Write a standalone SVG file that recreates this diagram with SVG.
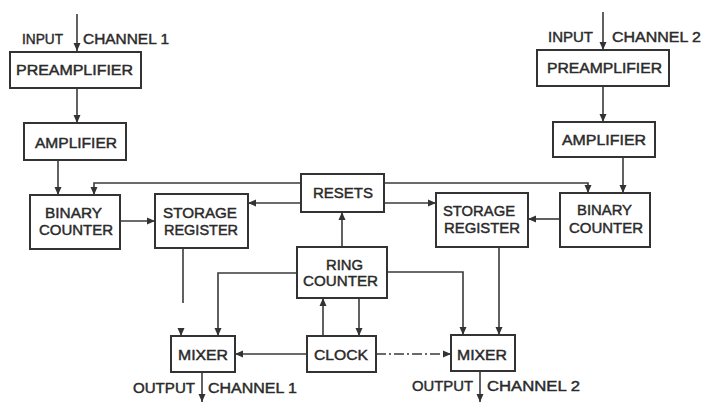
<svg xmlns="http://www.w3.org/2000/svg" width="702" height="403" viewBox="0 0 702 403">
<style>
.box{fill:#fff;stroke:#333;stroke-width:2}
.t{font-family:"Liberation Sans",Arial,sans-serif;font-size:15px;fill:#2a2a2a;stroke:#2a2a2a;stroke-width:0.45}
.c{fill:none;stroke:#3a3a3a;stroke-width:1.6}
.dash{stroke-dasharray:10 3 2 3}
</style>
<defs>
<marker id="ah" markerUnits="userSpaceOnUse" markerWidth="8" markerHeight="8" refX="8" refY="4" orient="auto">
<path d="M0,0.5 L8,4 L0,7.5 z" fill="#333"/>
</marker>
</defs>
<rect width="702" height="403" fill="#fff"/>
<g id="connectors" class="c">
<path d="M77,14 V51" marker-end="url(#ah)"/>
<path d="M77,88 V123" marker-end="url(#ah)"/>
<path d="M58,160 V195" marker-end="url(#ah)"/>
<path d="M301,183 H94 V195" marker-end="url(#ah)"/>
<path d="M301,203 H248" marker-end="url(#ah)"/>
<path d="M120,221 H155" marker-end="url(#ah)"/>
<path d="M183,248 V303"/>
<path d="M181,329 V336" marker-end="url(#ah)"/>
<path d="M342,247 V212" marker-end="url(#ah)"/>
<path d="M297,273 H218 V336" marker-end="url(#ah)"/>
<path d="M387,272 H463 V335" marker-end="url(#ah)"/>
<path d="M323,336 V298" marker-end="url(#ah)"/>
<path d="M359,298 V336" marker-end="url(#ah)"/>
<path d="M307,354 H235" marker-end="url(#ah)"/>
<path class="dash" d="M376,354 H451" marker-end="url(#ah)"/>
<path d="M384,183 H588 V193" marker-end="url(#ah)"/>
<path d="M384,203 H436" marker-end="url(#ah)"/>
<path d="M560,219 H528" marker-end="url(#ah)"/>
<path d="M499,247 V335" marker-end="url(#ah)"/>
<path d="M623,157 V193" marker-end="url(#ah)"/>
<path d="M603,86 V122" marker-end="url(#ah)"/>
<path d="M603,12 V50" marker-end="url(#ah)"/>
<path d="M202,372 V402" marker-end="url(#ah)"/>
<path d="M480,371 V402" marker-end="url(#ah)"/>
</g>
<g id="labels">
<text class="t" x="22" y="44" textLength="41" lengthAdjust="spacingAndGlyphs">INPUT</text>
<text class="t" x="83" y="44" textLength="86" lengthAdjust="spacingAndGlyphs">CHANNEL 1</text>
<text class="t" x="548" y="42" textLength="45" lengthAdjust="spacingAndGlyphs">INPUT</text>
<text class="t" x="612" y="42" textLength="89" lengthAdjust="spacingAndGlyphs">CHANNEL 2</text>
<text class="t" x="133" y="393" textLength="62" lengthAdjust="spacingAndGlyphs">OUTPUT</text>
<text class="t" x="208" y="393" textLength="89" lengthAdjust="spacingAndGlyphs">CHANNEL 1</text>
<text class="t" x="412" y="391" textLength="61" lengthAdjust="spacingAndGlyphs">OUTPUT</text>
<text class="t" x="487" y="391" textLength="93" lengthAdjust="spacingAndGlyphs">CHANNEL 2</text>
</g>
<g id="preamp1"><rect class="box" x="10" y="52" width="131" height="36"/><text class="t" x="16" y="75" textLength="117" lengthAdjust="spacingAndGlyphs">PREAMPLIFIER</text></g>
<g id="amp1"><rect class="box" x="24" y="123" width="102" height="37"/><text class="t" x="35" y="148" textLength="82" lengthAdjust="spacingAndGlyphs">AMPLIFIER</text></g>
<g id="binary1"><rect class="box" x="30" y="195" width="90" height="54"/><text class="t" x="45" y="218" textLength="57" lengthAdjust="spacingAndGlyphs">BINARY</text><text class="t" x="39" y="235" textLength="74" lengthAdjust="spacingAndGlyphs">COUNTER</text></g>
<g id="storage1"><rect class="box" x="155" y="194" width="93" height="54"/><text class="t" x="163" y="218" textLength="74" lengthAdjust="spacingAndGlyphs">STORAGE</text><text class="t" x="164" y="235" textLength="74" lengthAdjust="spacingAndGlyphs">REGISTER</text></g>
<g id="resets"><rect class="box" x="301" y="174" width="83" height="38"/><text class="t" x="313" y="198" textLength="60" lengthAdjust="spacingAndGlyphs">RESETS</text></g>
<g id="ring"><rect class="box" x="297" y="247" width="90" height="51"/><text class="t" x="326" y="270" textLength="37" lengthAdjust="spacingAndGlyphs">RING</text><text class="t" x="303" y="286" textLength="75" lengthAdjust="spacingAndGlyphs">COUNTER</text></g>
<g id="clock"><rect class="box" x="307" y="336" width="69" height="36"/><text class="t" x="314" y="360" textLength="54" lengthAdjust="spacingAndGlyphs">CLOCK</text></g>
<g id="mixer1"><rect class="box" x="171" y="336" width="64" height="36"/><text class="t" x="178" y="360" textLength="50" lengthAdjust="spacingAndGlyphs">MIXER</text></g>
<g id="mixer2"><rect class="box" x="451" y="335" width="64" height="36"/><text class="t" x="457" y="360" textLength="50" lengthAdjust="spacingAndGlyphs">MIXER</text></g>
<g id="storage2"><rect class="box" x="436" y="193" width="92" height="54"/><text class="t" x="443" y="216" textLength="72" lengthAdjust="spacingAndGlyphs">STORAGE</text><text class="t" x="444" y="233" textLength="76" lengthAdjust="spacingAndGlyphs">REGISTER</text></g>
<g id="binary2"><rect class="box" x="560" y="193" width="90" height="54"/><text class="t" x="577" y="215" textLength="55" lengthAdjust="spacingAndGlyphs">BINARY</text><text class="t" x="569" y="233" textLength="74" lengthAdjust="spacingAndGlyphs">COUNTER</text></g>
<g id="preamp2"><rect class="box" x="537" y="50" width="132" height="36"/><text class="t" x="547" y="73" textLength="115" lengthAdjust="spacingAndGlyphs">PREAMPLIFIER</text></g>
<g id="amp2"><rect class="box" x="553" y="122" width="102" height="35"/><text class="t" x="562" y="145" textLength="84" lengthAdjust="spacingAndGlyphs">AMPLIFIER</text></g>
</svg>
